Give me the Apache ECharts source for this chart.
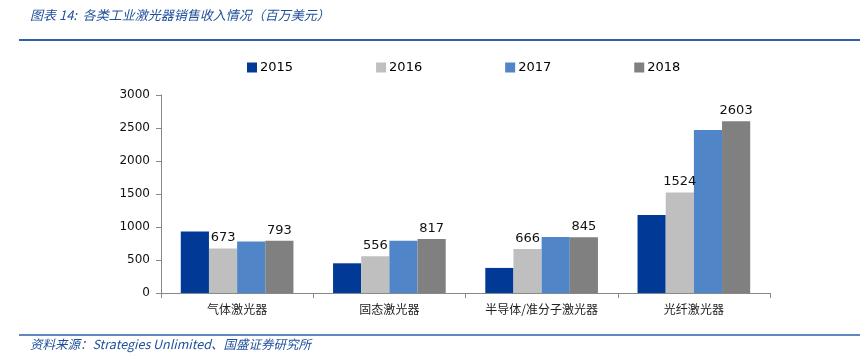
<!DOCTYPE html>
<html><head><meta charset="utf-8">
<script src="https://cdn.jsdelivr.net/npm/echarts@6/dist/echarts.min.js"></script>
<style>html,body{margin:0;padding:0;background:#fff}#c{width:863px;height:361px}</style>
</head><body><div id="c"></div>
<script>
const categories = ['气体激光器','固态激光器','半导体/准分子激光器','光纤激光器'];
const years = ['2015','2016','2017','2018'];
const v2015 = [930, 450, 380, 1180];
const v2016 = [673, 556, 666, 1524];
const v2017 = [780, 790, 850, 2470];
const v2018 = [793, 817, 845, 2603];
const yTicks = [0, 500, 1000, 1500, 2000, 2500, 3000];
const labelled = {'2016': true, '2018': true};
const colors = ['#003A96', '#BFBFBF', '#5085C8', '#808080'];
const values = [v2015, v2016, v2017, v2018];

const chart = echarts.init(document.getElementById('c'));
const font = 'DejaVu Sans, Verdana, sans-serif';
chart.setOption({
  animation: false,
  color: colors,
  grid: {left: 161, right: 93, top: 95, bottom: 68},
  legend: {
    left: 242, top: 56, itemWidth: 10, itemHeight: 10, itemGap: 83,
    icon: 'rect',
    textStyle: {fontFamily: font, fontSize: 13, color: '#000', padding: [0,0,0,-2]},
    data: years
  },
  xAxis: {
    type: 'category', data: categories,
    axisLine: {lineStyle: {color: '#888', width: 1}},
    axisTick: {show: true, length: 5, lineStyle: {color: '#888'}},
    axisLabel: {fontFamily: 'Noto Sans CJK SC', fontSize: 12, color: '#222', margin: 10}
  },
  yAxis: {
    type: 'value', min: yTicks[0], max: yTicks[yTicks.length-1], interval: 500,
    axisLine: {show: true, lineStyle: {color: '#888'}},
    axisTick: {show: true, inside: false, length: 5, lineStyle: {color: '#888'}},
    splitLine: {show: false},
    axisLabel: {fontFamily: font, fontSize: 12, color: '#111', margin: 11, formatter: v => String(v)}
  },
  series: years.map((y, i) => ({
    name: y, type: 'bar', data: values[i],
    barGap: '0%', barCategoryGap: '26%',
    itemStyle: {color: colors[i]},
    label: {show: !!labelled[y], position: 'top', distance: 4, fontFamily: font, fontSize: 13, color: '#111'}
  })),
  graphic: [
    {type: 'text', left: 30, top: 9, style: {text: '图表 14:  各类工业激光器销售收入情况（百万美元）', font: 'italic 13px "Noto Sans CJK SC"', fill: '#1F4F9C'}},
    {type: 'line', shape: {x1: 19, y1: 40, x2: 860, y2: 40}, style: {stroke: '#2E5FA8', lineWidth: 2}},
    {type: 'line', shape: {x1: 19, y1: 335, x2: 860, y2: 335}, style: {stroke: '#2E5FA8', lineWidth: 1.5}},
    {type: 'text', left: 30, top: 338, style: {text: '资料来源：Strategies Unlimited、国盛证券研究所', font: 'italic 12.5px "Noto Sans CJK SC"', fill: '#1F4F9C'}}
  ]
});
</script></body></html>
